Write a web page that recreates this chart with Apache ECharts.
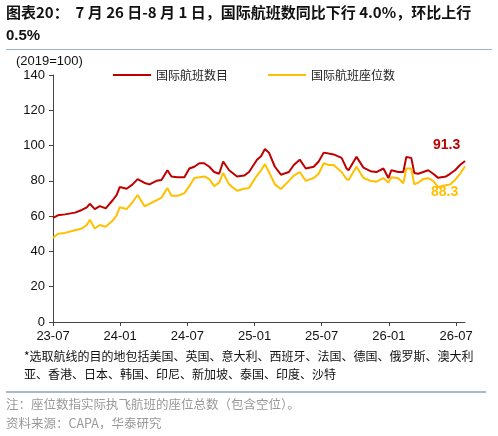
<!DOCTYPE html>
<html><head><meta charset="utf-8">
<script src="https://cdn.jsdelivr.net/npm/echarts@6/dist/echarts.min.js"></script>
<style>html,body{margin:0;padding:0;background:#fff}#c{width:498px;height:436px}</style>
</head><body><div id="c"></div>
<script>
const months = [0,0.44,1.07,1.96,2.58,3.02,3.29,3.73,4.18,4.71,5.33,5.69,5.96,6.58,7.11,7.56,8.18,8.62,9.24,9.69,10.22,10.58,11.11,11.73,12.18,12.62,13.07,13.51,13.96,14.4,14.84,15.2,15.73,16.44,17.07,17.51,18.22,18.58,18.93,19.29,19.82,20.36,21.07,21.51,22.04,22.58,23.29,23.73,24.18,24.62,25.07,25.78,26.22,26.4,27.11,27.73,28.36,28.89,29.51,29.96,30.22,30.84,31.29,31.56,32,32.27,32.62,33.07,33.51,33.96,34.4,35.11,35.47,35.91,36.36,36.8];
const flights = [59,60.5,61,62,63.5,65,67,64,65.7,64.4,69,72,76.5,75.5,78,81,78.8,78,80,80.5,86,82.5,82,82,87,88,90,90,88,85,84,91,86,82.5,83,85,92,94,98,96,88,83.5,85,89,92,87,88,91,96,95.5,95,93,87,86,93.6,87.5,85.5,85,87,81.6,86,85,85,93.6,93,84.5,84,85,86,84,81.7,82.5,84,86,89,91.3];
const seats = [47.6,50,50.5,52,53,55,58,53,55,54,57.5,60.5,65,64,68,72,65.6,67,69,70.5,76,71.5,71.5,73,77,81.6,82,82.5,81,77,79,84.5,78,74.4,75.5,76,83,86,89.5,85,78,75.4,80,83,85,80,81.6,84,90,89,89,85,81,80.5,88,81.6,80,79.5,81.6,79,82,81.5,78.6,87,87,78,79,81,81.5,80,76.5,77.5,78,80.5,84,88.3];
const tickMonths = [0,6,12,18,24,30,36];
const tickLabels = ['23-07','24-01','24-07','25-01','25-07','26-01','26-07'];
const names = ['国际航班数目','国际航班座位数'];

const pair = a => a.map((v,i)=>[months[i], v]);

const cjk = '"Noto Sans CJK SC"';
const chart = echarts.init(document.getElementById('c'));
chart.setOption({
  animation:false,
  grid:{left:53, right:33, top:75, bottom:114},
  legend:{top:64, left:108, itemWidth:38, itemHeight:2, itemGap:40, icon:'rect',
    textStyle:{fontFamily:cjk, fontSize:12, color:'#222'}, data:names},
  xAxis:{type:'value', min:0, max:36.8,
    axisLine:{lineStyle:{color:'#444', width:1}},
    axisTick:{show:true, length:4, lineStyle:{color:'#444'}, customValues:tickMonths},
    axisLabel:{customValues:tickMonths, formatter:v=>tickLabels[tickMonths.indexOf(v)], color:'#111', fontSize:13, fontFamily:'Liberation Sans', margin:8},
    splitLine:{show:false}},
  yAxis:{type:'value', min:0, max:140, interval:20,
    axisLine:{show:true, lineStyle:{color:'#444'}},
    axisTick:{show:true, length:4, lineStyle:{color:'#444'}},
    axisLabel:{color:'#111', fontSize:13, fontFamily:'Liberation Sans', margin:8},
    splitLine:{show:false}},
  series:[
    {name:names[0], type:'line', data:pair(flights), showSymbol:false, symbol:'none', lineStyle:{color:'#C00000', width:2}, itemStyle:{color:'#C00000'},
     endLabel:{show:true, formatter:p=>p.value[1].toFixed(1), color:'#C00000', fontSize:14, fontWeight:'bold', fontFamily:'Liberation Sans', offset:[-40,-16]}},
    {name:names[1], type:'line', data:pair(seats), showSymbol:false, symbol:'none', lineStyle:{color:'#FFC000', width:2}, itemStyle:{color:'#FFC000'},
     endLabel:{show:true, formatter:p=>p.value[1].toFixed(1), color:'#FFC000', fontSize:14, fontWeight:'bold', fontFamily:'Liberation Sans', offset:[-42,26]}}
  ],
  graphic:[
    {type:'text', left:6, top:5, style:{text:'图表20：  7 月 26 日-8 月 1 日，国际航班数同比下行 4.0%，环比上行', font:'bold 15px "Noto Sans CJK SC"', fill:'#111'}},
    {type:'text', left:6, top:28, style:{text:'0.5%', font:'bold 15px "Liberation Sans"', fill:'#111'}},
    {type:'rect', shape:{x:6, y:49, width:486, height:1}, style:{fill:'#9fb3c8'}},
    {type:'text', left:16, top:55, style:{text:'(2019=100)', font:'13px "Liberation Sans"', fill:'#111'}},
    {type:'text', left:24, top:350, style:{text:'*选取航线的目的地包括美国、英国、意大利、西班牙、法国、德国、俄罗斯、澳大利', font:'12px "Noto Sans CJK SC"', fill:'#111'}},
    {type:'text', left:24, top:368, style:{text:'亚、香港、日本、韩国、印尼、新加坡、泰国、印度、沙特', font:'12px "Noto Sans CJK SC"', fill:'#111'}},
    {type:'rect', shape:{x:6, y:391, width:480, height:2}, style:{fill:'#a9b9c9'}},
    {type:'text', left:6, top:398, style:{text:'注：座位数指实际执飞航班的座位总数（包含空位）。', font:'12.5px "Noto Sans CJK SC"', fill:'#999'}},
    {type:'text', left:6, top:417, style:{text:'资料来源：CAPA，华泰研究', font:'12.5px "Noto Sans CJK SC"', fill:'#999'}}
  ]
});
</script></body></html>
